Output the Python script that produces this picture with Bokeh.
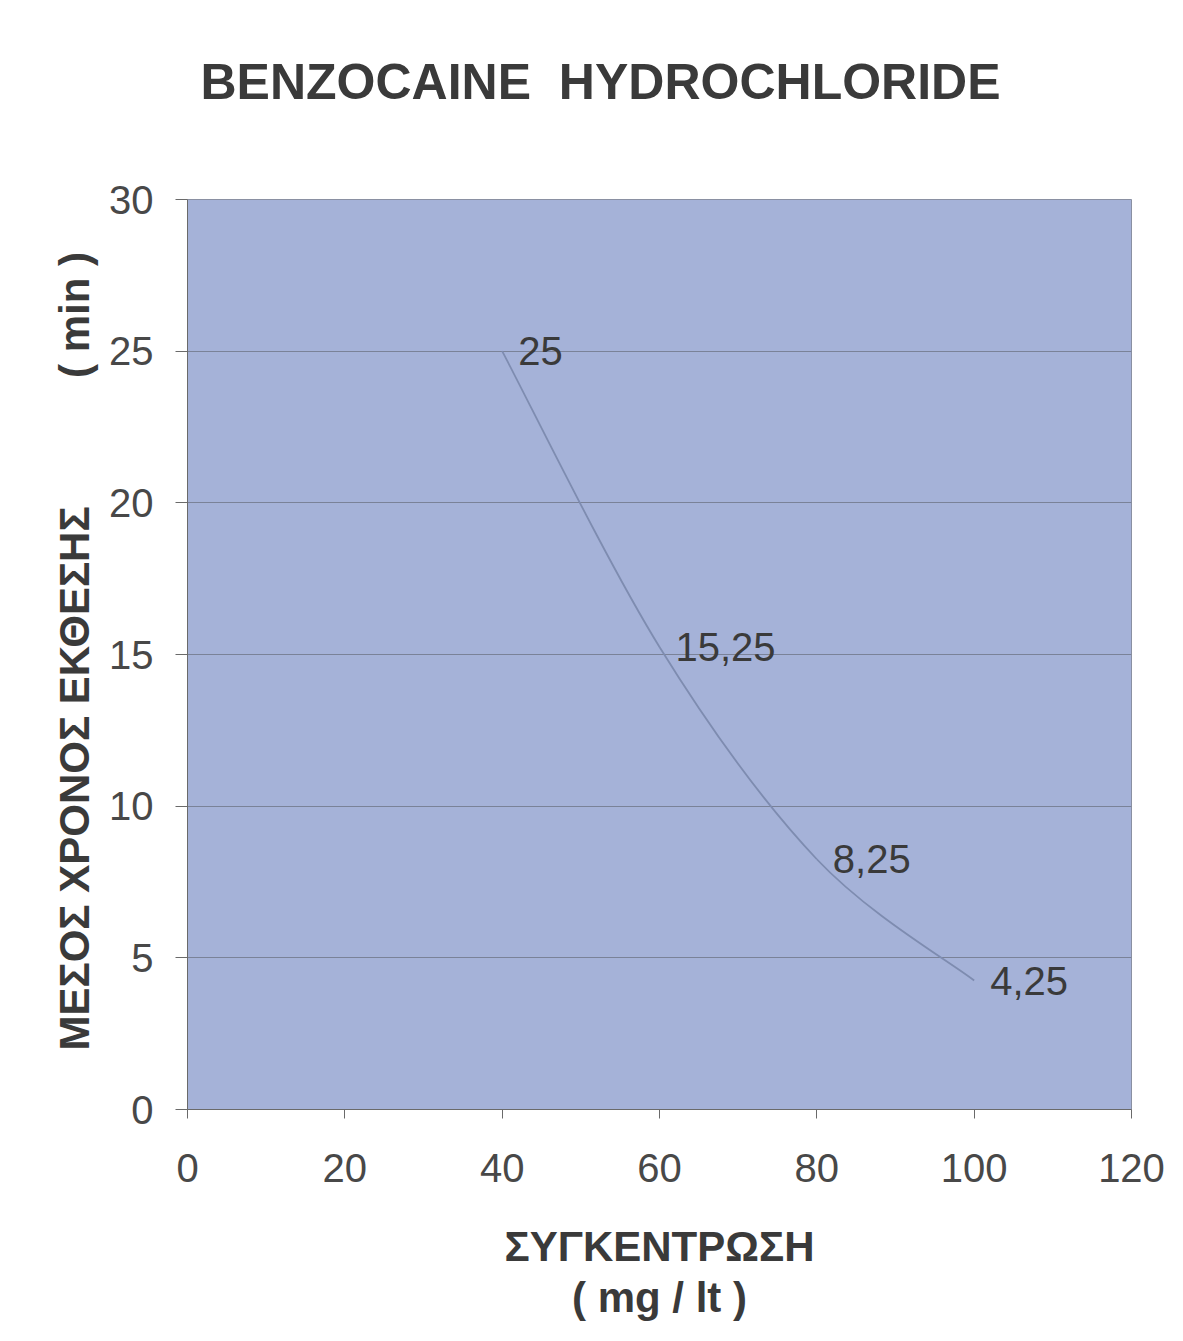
import numpy as np
from bokeh.plotting import figure
from bokeh.models import Range1d, FixedTicker, ColumnDataSource, LabelSet, Title
from bokeh.core.properties import value
from bokeh.embed import file_html
from bokeh.resources import INLINE

# ---- data ----
conc = [40, 60, 80, 100]
times = [25, 15.25, 8.25, 4.25]
point_labels = ["25", "15,25", "8,25", "4,25"]
x_ticks = [0, 20, 40, 60, 80, 100, 120]
y_ticks = [0, 5, 10, 15, 20, 25, 30]
title_text = "BENZOCAINE\u00a0\u00a0HYDROCHLORIDE"
x_title = "ΣΥΓΚΕΝΤΡΩΣΗ"
x_unit = "( mg / lt )"
y_title = "ΜΕΣΟΣ ΧΡΟΝΟΣ ΕΚΘΕΣΗΣ" + "\u00a0" * 11 + "( min )"

FONT = "Liberation Sans"
TXT = "#3a3a3a"

p = figure(width=1183, height=1341, output_backend="svg", toolbar_location=None,
           x_range=Range1d(0, 120), y_range=Range1d(0, 30),
           min_border_left=187, min_border_right=52,
           min_border_top=199, min_border_bottom=232)

p.background_fill_color = "#a5b2d8"
p.border_fill_color = "white"
p.outline_line_color = "#8a90a2"
p.outline_line_width = 1

# grid
p.xgrid.grid_line_color = None
p.ygrid.grid_line_color = "#7a8298"
p.ygrid.grid_line_width = 1
p.ygrid.ticker = FixedTicker(ticks=y_ticks[1:-1])

# axes
for ax in (p.xaxis[0], p.yaxis[0]):
    ax.axis_line_color = "#6a6a6a"
    ax.major_tick_line_color = "#6a6a6a"
    ax.minor_tick_line_color = None
    ax.major_tick_in = 0
    ax.major_label_text_font = FONT
    ax.major_label_text_font_size = "40px"
    ax.major_label_text_color = "#484848"
p.xaxis.ticker = FixedTicker(ticks=x_ticks)
p.yaxis.ticker = FixedTicker(ticks=y_ticks)
p.xaxis.major_tick_out = 9
p.yaxis.major_tick_out = 12
p.xaxis.major_label_standoff = 35
p.yaxis.major_label_standoff = 22

# x axis title (two lines)
p.xaxis.axis_label = x_title + "\n" + x_unit
p.xaxis.axis_label_text_font = FONT
p.xaxis.axis_label_text_font_size = "42px"
p.xaxis.axis_label_text_font_style = "bold"
p.xaxis.axis_label_text_color = TXT
p.xaxis.axis_label_text_align = "center"
p.xaxis.axis_label_text_line_height = 1.1
p.xaxis.axis_label_standoff = 38

# smooth curve (Catmull-Rom bezier through the data points)
xs = np.array(conc, dtype=float)
ys = np.array(times, dtype=float)
xe = np.concatenate([[xs[0]], xs, [xs[-1]]])
ye = np.concatenate([[ys[0]], ys, [ys[-1]]])
n = len(xs)
cx0 = xs[:-1] + (xe[2:n + 1] - xe[0:n - 1]) / 6.0
cy0 = ys[:-1] + (ye[2:n + 1] - ye[0:n - 1]) / 6.0
cx1 = xs[1:] - (xe[3:n + 2] - xe[1:n]) / 6.0
cy1 = ys[1:] - (ye[3:n + 2] - ye[1:n]) / 6.0
p.bezier(x0=xs[:-1], y0=ys[:-1], x1=xs[1:], y1=ys[1:],
         cx0=cx0, cy0=cy0, cx1=cx1, cy1=cy1,
         line_color="#7e8cb0", line_width=1.8)

# point labels
src = ColumnDataSource(dict(x=conc, y=times, t=point_labels))
p.add_layout(LabelSet(x="x", y="y", text="t", source=src, x_offset=16, y_offset=0,
                      text_baseline="middle", text_align="left",
                      text_font=value(FONT), text_font_size="40px", text_color=TXT))

# titles (a thin invisible spacer keeps the main title away from the frame)
p.add_layout(Title(text="\u00a0", standoff=36, text_font=FONT, text_font_size="1px",
                   text_color="white"), "above")
p.add_layout(Title(text=title_text, align="left", offset=13, standoff=102,
                   text_font=FONT, text_font_size="50px", text_font_style="bold",
                   text_color=TXT), "above")
p.add_layout(Title(text=y_title, align="left", offset=59, standoff=18,
                   text_font=FONT, text_font_size="42px", text_font_style="bold",
                   text_color=TXT), "left")

open("out.html", "w").write(file_html(p, INLINE))
